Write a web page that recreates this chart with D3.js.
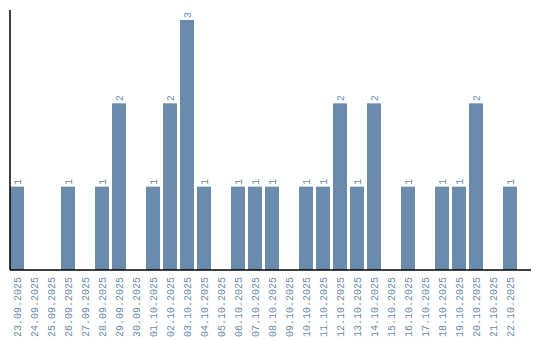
<!DOCTYPE html>
<html>
<head>
<meta charset="utf-8">
<script src="https://cdn.jsdelivr.net/npm/d3@7"></script>
<style>
  body { margin: 0; background: #fff; }
  text { font-family: "Liberation Mono", "DejaVu Sans Mono", monospace; font-size: 10px; }
</style>
</head>
<body>
<svg width="540" height="340"></svg>
<script>
const dates = ['23.09.2025', '24.09.2025', '25.09.2025', '26.09.2025', '27.09.2025', '28.09.2025',
    '29.09.2025', '30.09.2025', '01.10.2025', '02.10.2025', '03.10.2025', '04.10.2025', '05.10.2025',
    '06.10.2025', '07.10.2025', '08.10.2025', '09.10.2025', '10.10.2025', '11.10.2025', '12.10.2025',
    '13.10.2025', '14.10.2025', '15.10.2025', '16.10.2025', '17.10.2025', '18.10.2025', '19.10.2025',
    '20.10.2025', '21.10.2025', '22.10.2025'];
const counts = [1, 0, 0, 1, 0, 1, 2, 0, 1, 2, 3, 1, 0, 1, 1, 1, 0, 1, 1, 2, 1, 2, 0, 1, 0, 1, 1, 2, 0, 1];

const data = dates.map((d, i) => ({ date: d, count: counts[i] }));

const svg = d3.select('svg');
const barColor = '#6a8bab';

const left = 10;
const baseline = 270;

const xScale = d3.scaleBand()
    .domain(dates)
    .range([left, left + 17 * 30 - 3])
    .paddingInner(3 / 17)
    .paddingOuter(0);

const yScale = d3.scaleLinear()
    .domain([0, 3])
    .range([baseline, 20]);

// bars
svg.selectAll('rect')
    .data(data.filter(d => d.count > 0))
    .enter()
    .append('rect')
    .attr('x', d => xScale(d.date))
    .attr('y', d => yScale(d.count))
    .attr('width', xScale.bandwidth())
    .attr('height', d => baseline - yScale(d.count))
    .attr('fill', barColor);

// value labels
svg.selectAll('.val')
    .data(data.filter(d => d.count > 0))
    .enter()
    .append('text')
    .attr('class', 'val')
    .attr('transform', d => `translate(${xScale(d.date) + xScale.bandwidth() / 2 + 3.5},${yScale(d.count) - 2}) rotate(-90)`)
    .attr('fill', barColor)
    .style('text-anchor', 'start')
    .text(d => d.count);

// date labels
svg.selectAll('.lbl')
    .data(data)
    .enter()
    .append('text')
    .attr('class', 'lbl')
    .attr('transform', d => `translate(${xScale(d.date) + xScale.bandwidth() / 2 + 3.5},${baseline + 7}) rotate(-90)`)
    .attr('fill', barColor)
    .style('text-anchor', 'end')
    .text(d => d.date);

// axes lines
svg.append('line')
    .attr('x1', left).attr('x2', left)
    .attr('y1', 10).attr('y2', baseline)
    .attr('stroke', '#000').attr('stroke-width', 1.5);

svg.append('line')
    .attr('x1', left).attr('x2', 531)
    .attr('y1', baseline).attr('y2', baseline)
    .attr('stroke', '#000').attr('stroke-width', 1.5);
</script>
</body>
</html>
